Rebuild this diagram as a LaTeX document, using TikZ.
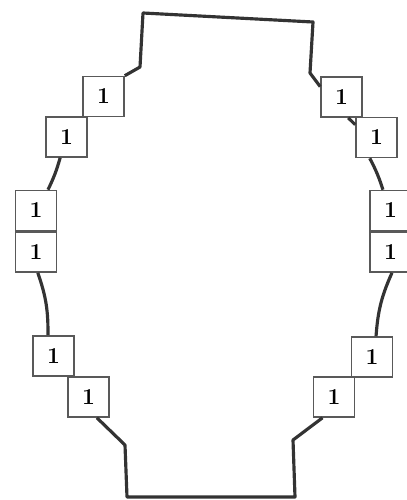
\documentclass[tikz,border=0pt]{standalone}
\usepackage{tikz}
\usetikzlibrary{positioning,calc}

\begin{document}
\begin{tikzpicture}[
  x=0.02cm, y=-0.02cm,
  cell/.style={draw=black!65, line width=0.9pt, fill=white, minimum width=8.2mm, minimum height=8mm, inner sep=0pt, font=\fontsize{13}{15}\selectfont\bfseries},
  rim/.style={draw=black!80, line width=1.8pt, line join=round}
]
\useasboundingbox (0,0) rectangle (406,500);

% left column
\node[cell] (b1) at (103.5,96.5) {1};
\node[cell] (b2) at (66.5,137) {1};
\node[cell] (b3) at (36,210.5) {1};
\node[cell, below=0pt of b3] (b4) {1};
\node[cell] (b5) at (53.5,356) {1};
\node[cell] (b6) at (88.5,397) {1};
% right column
\node[cell] (r1) at (341.5,97) {1};
\node[cell] (r2) at (376.5,137.5) {1};
\node[cell] (r3) at (390.5,210.5) {1};
\node[cell, below=0pt of r3] (r4) {1};
\node[cell] (r5) at (372,357) {1};
\node[cell] (r6) at (334,397) {1};

\coordinate (tl) at (143,13);
\coordinate (tr) at (313,22);
\coordinate (bl) at (127,497);
\coordinate (br) at (295,497);

\draw[rim] (b1.north east) -- (140,67) -- (tl) -- (tr) -- (310,73) -- (r1.154);
\draw[rim] (r1.288) -- (r2.149);
\draw[rim] (r2.252) to[bend left=5] (r3.110);
\draw[rim] (r4.274) to[bend right=10] (r5.79);
\draw[rim] (r6.241) -- (293,440) -- (br) -- (bl) -- (125,445) -- (b6.292);
\draw[rim] (b5.105) to[bend right=10] (b4.275);
\draw[rim] (b3.60) to[bend right=5] (b2.253);
\end{tikzpicture}
\end{document}
